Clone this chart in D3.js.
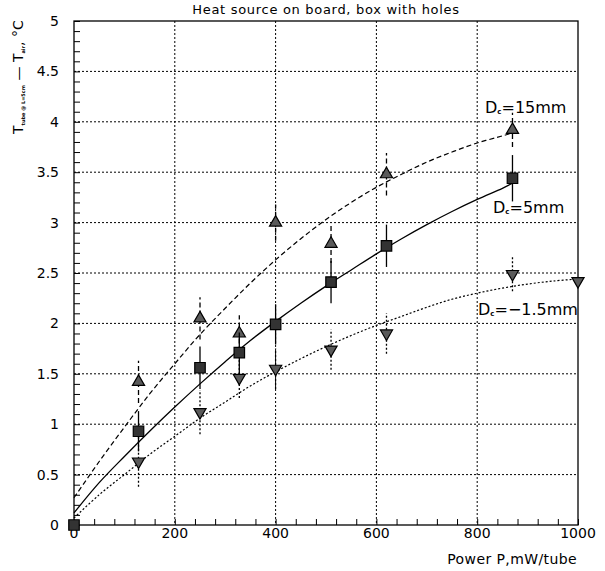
<!DOCTYPE html>
<html lang="en">
<head>
<meta charset="UTF-8">
<title>Heat source on board, box with holes</title>
<style>
  body { margin: 0; background: #fff; }
  text { font-family: "DejaVu Sans", sans-serif; fill: #000; }
</style>
</head>
<body>
<div id="chart"></div>
<script src="https://d3js.org/d3.v7.min.js"></script>
<script>

// measured points, D_c = 15mm (up triangles)
let upX   = [128, 250, 328, 400, 510, 620, 870];
let upY   = [1.42, 2.05, 1.9, 3.0, 2.79, 3.48, 3.92];
let upErr = [0.21, 0.21, 0.18, 0.18, 0.19, 0.21, 0.17];

// measured points, D_c = 5mm (squares)
let sqX   = [0, 128, 250, 328, 400, 510, 620, 870];
let sqY   = [0, 0.93, 1.56, 1.71, 1.99, 2.41, 2.77, 3.44];
let sqErr = [0, 0.2, 0.21, 0.2, 0.2, 0.21, 0.21, 0.23];

// measured points, D_c = -1.5mm (down triangles)
let dnX   = [128, 250, 328, 400, 510, 620, 870, 1000];
let dnY   = [0.63, 1.12, 1.46, 1.55, 1.74, 1.9, 2.49, 2.42];
let dnErr = [0.25, 0.22, 0.2, 0.2, 0.2, 0.2, 0.17, 0];

// fitted curves
let fitX15  = [0, 50, 100, 150, 200, 250, 300, 350, 400, 450, 500, 550, 600, 650, 700, 750, 800, 850, 870];
let fitY15  = [0.27, 0.63, 0.97, 1.3, 1.6, 1.89, 2.15, 2.4, 2.63, 2.84, 3.03, 3.2, 3.35, 3.48, 3.6, 3.7, 3.79, 3.86, 3.89];
let fitX5   = [0, 50, 100, 150, 200, 250, 300, 350, 400, 450, 500, 550, 600, 650, 700, 750, 800, 850, 870];
let fitY5   = [0.12, 0.42, 0.68, 0.93, 1.17, 1.4, 1.62, 1.83, 2.02, 2.2, 2.37, 2.53, 2.69, 2.84, 2.98, 3.11, 3.23, 3.34, 3.39];
let fitXm15 = [0, 50, 100, 150, 200, 250, 300, 350, 400, 450, 500, 550, 600, 650, 700, 750, 800, 850, 900, 950, 1000];
let fitYm15 = [0.07, 0.3, 0.5, 0.7, 0.88, 1.06, 1.22, 1.38, 1.52, 1.65, 1.77, 1.88, 1.98, 2.07, 2.16, 2.24, 2.3, 2.35, 2.39, 2.42, 2.44];

let xTicks = [0, 200, 400, 600, 800, 1000];
let yTicks = [0, 0.5, 1, 1.5, 2, 2.5, 3, 3.5, 4, 4.5, 5];
let yTickLabels = ['0', '0.5', '1', '1.5', '2', '2.5', '3', '3.5', '4', '4.5', '5'];

let margin = { top: 21, right: 27, bottom: 46, left: 74 },
    width  = 605 - margin.left - margin.right,
    height = 571 - margin.top - margin.bottom;

let root = d3.select('#chart')
             .append('svg')
             .attr('width', 605)
             .attr('height', 571);

let svg = root.append('g')
              .attr('transform', `translate(${margin.left}, ${margin.top})`);

let x = d3.scaleLinear().domain([0, 1000]).range([0, width]);
let y = d3.scaleLinear().domain([0, 5]).range([height, 0]);

// grid
svg.selectAll('.gx')
   .data(xTicks.slice(1, -1))
   .enter().append('line')
   .attr('x1', d => x(d)).attr('x2', d => x(d))
   .attr('y1', 0).attr('y2', height)
   .attr('stroke', '#000').attr('stroke-width', 1)
   .attr('stroke-dasharray', '2,2');

svg.selectAll('.gy')
   .data(yTicks.slice(1, -1))
   .enter().append('line')
   .attr('x1', 0).attr('x2', width)
   .attr('y1', d => y(d)).attr('y2', d => y(d))
   .attr('stroke', '#000').attr('stroke-width', 1)
   .attr('stroke-dasharray', '2,2');

// axes (ticks inside the frame)
let axeX = d3.axisBottom(x)
             .tickValues(d3.range(0, 1001, 40))
             .tickSize(-6)
             .tickFormat('');
svg.append('g')
   .attr('transform', `translate(0, ${height})`)
   .call(axeX)
   .call(g => g.select('.domain').remove());

let axeY = d3.axisLeft(y)
             .tickValues(d3.range(0, 51).map(d => d / 10))
             .tickSize(-6)
             .tickFormat('');
svg.append('g')
   .call(axeY)
   .call(g => g.select('.domain').remove());

svg.selectAll('.xl')
   .data(xTicks)
   .enter().append('text')
   .attr('x', d => x(d))
   .attr('y', height + 13)
   .attr('text-anchor', 'middle')
   .style('font-size', '14px')
   .text(d => d);

svg.selectAll('.yl')
   .data(yTicks)
   .enter().append('text')
   .attr('x', -15)
   .attr('y', d => y(d) + 5)
   .attr('text-anchor', 'end')
   .style('font-size', '14px')
   .text((d, i) => yTickLabels[i]);

// frame
svg.append('rect')
   .attr('width', width).attr('height', height)
   .attr('fill', 'none').attr('stroke', '#000').attr('stroke-width', 1.3);

// fitted curves
let line = d3.line()
             .x(d => x(d[0]))
             .y(d => y(d[1]))
             .curve(d3.curveCatmullRom);

svg.append('path')
   .datum(d3.zip(fitX15, fitY15))
   .attr('fill', 'none').attr('stroke', '#000').attr('stroke-width', 1.2)
   .attr('stroke-dasharray', '5,3')
   .attr('d', line);

svg.append('path')
   .datum(d3.zip(fitX5, fitY5))
   .attr('fill', 'none').attr('stroke', '#000').attr('stroke-width', 1.3)
   .attr('d', line);

svg.append('path')
   .datum(d3.zip(fitXm15, fitYm15))
   .attr('fill', 'none').attr('stroke', '#000').attr('stroke-width', 1.2)
   .attr('stroke-dasharray', '2,2')
   .attr('d', line);

// error bars + markers
function serie(xs, ys, errs, dash, shape, rot, size, fill) {
    let pts = d3.zip(xs, ys, errs);
    svg.append('g').selectAll('line')
       .data(pts.filter(d => d[2] > 0))
       .enter().append('line')
       .attr('x1', d => x(d[0])).attr('x2', d => x(d[0]))
       .attr('y1', d => y(d[1] - d[2])).attr('y2', d => y(d[1] + d[2]))
       .attr('stroke', '#000').attr('stroke-width', 1.3)
       .attr('stroke-dasharray', dash);
    svg.append('g').selectAll('path')
       .data(pts)
       .enter().append('path')
       .attr('d', d3.symbol().type(shape).size(size))
       .attr('transform', d => `translate(${x(d[0])}, ${y(d[1])}) rotate(${rot})`)
       .attr('fill', fill).attr('stroke', '#000').attr('stroke-width', 1.2);
}

serie(upX, upY, upErr, '5,3', d3.symbolTriangle, 0, 64, '#5a5a5a');
serie(dnX, dnY, dnErr, '2,2', d3.symbolTriangle, 180, 64, '#5a5a5a');
serie(sqX, sqY, sqErr, null, d3.symbolSquare, 0, 110, '#333');

// curve labels
function label(px, py, rest) {
    let t = root.append('text')
                .attr('x', px).attr('y', py)
                .style('font-size', '16px');
    t.append('tspan').text('D');
    t.append('tspan').attr('dy', 1).style('font-size', '7px').style('font-weight', 'bold').text('c');
    t.append('tspan').attr('dy', -1).text(rest);
}
label(485, 113, '=15mm');
label(493, 213, '=5mm');
label(478, 315, '=\u22121.5mm');

// titles
root.append('text')
    .attr('x', 326).attr('y', 14)
    .attr('text-anchor', 'middle')
    .style('font-size', '13px')
    .style('letter-spacing', '0.7px')
    .text('Heat source on board, box with holes');

root.append('text')
    .attr('x', 577).attr('y', 564)
    .attr('text-anchor', 'end')
    .style('font-size', '14px')
    .style('letter-spacing', '0.4px')
    .text('Power P,mW/tube');

let yt = root.append('text')
             .attr('transform', 'translate(23, 134) rotate(-90)')
             .style('font-size', '14px');
yt.append('tspan').text('T');
yt.append('tspan').attr('dy', 2).style('font-size', '5px').style('font-weight', 'bold').text('tube @ L=5cm');
yt.append('tspan').attr('dy', -2).text(' \u2014 T');
yt.append('tspan').attr('dy', 2).style('font-size', '5px').style('font-weight', 'bold').text('air');
yt.append('tspan').attr('dy', -2).text(', \u00b0C');

</script>
</body>
</html>
